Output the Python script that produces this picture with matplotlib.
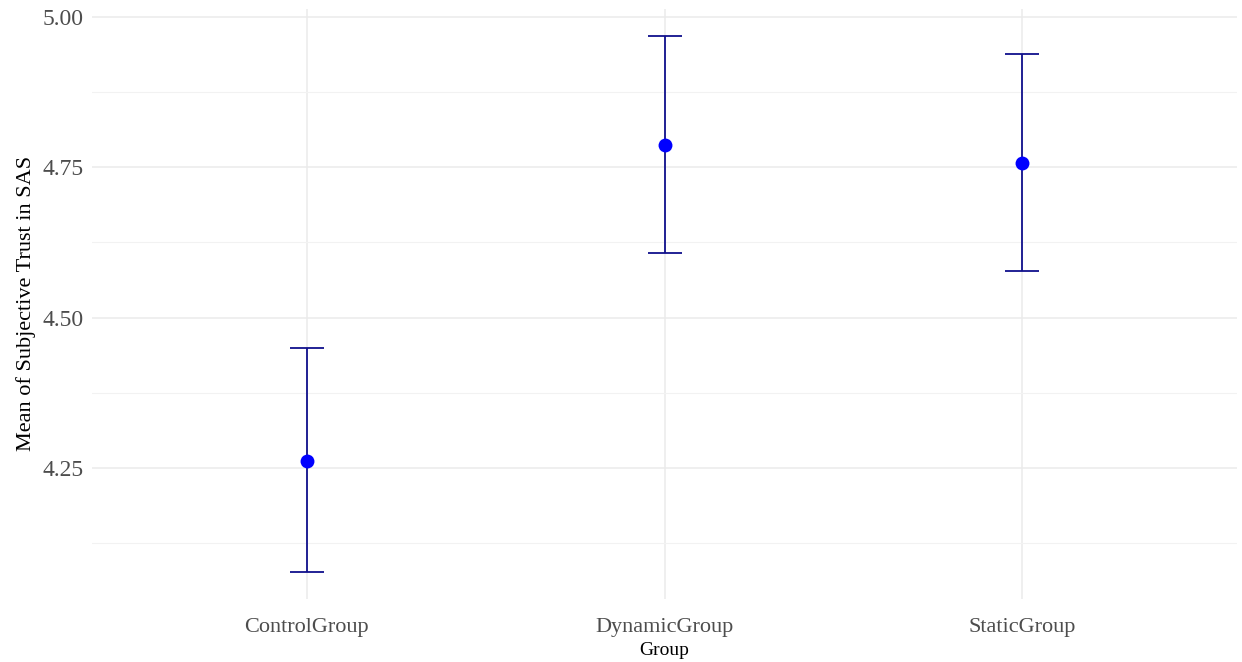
import matplotlib.pyplot as plt
from matplotlib.ticker import MultipleLocator

# group means of subjective trust with lower / upper CI bounds
groups = ["ControlGroup", "DynamicGroup", "StaticGroup"]
means = [4.262, 4.787, 4.757]
ci_low = [4.077, 4.608, 4.578]
ci_high = [4.450, 4.969, 4.938]

plt.rcParams['font.family'] = ['Liberation Serif', 'DejaVu Serif']

fig = plt.figure(figsize=(12.42, 6.62), dpi=100)
ax = fig.add_axes([0.0741, 0.0952, 0.9219, 0.8917])

x = list(range(1, len(groups) + 1))
err = [[m - lo for m, lo in zip(means, ci_low)],
       [hi - m for m, hi in zip(means, ci_high)]]

ax.errorbar(x, means, yerr=err, fmt='none', ecolor='#10108C',
            elinewidth=1.3, capsize=12.5, capthick=1.3, zorder=3)
ax.scatter(x, means, s=100, color='#0000FF', zorder=4, linewidths=0)

# ggplot-style expansion of the scales
ax.set_xlim(0.4, 3.6)
lo, hi = min(ci_low), max(ci_high)
pad = (hi - lo) * 0.05
ax.set_ylim(lo - pad, hi + pad)

ax.set_xticks(x)
ax.set_xticklabels(groups)
ax.yaxis.set_major_locator(MultipleLocator(0.25))
ax.yaxis.set_minor_locator(MultipleLocator(0.125))
ax.yaxis.set_major_formatter(lambda v, p: f"{v:.2f}")

ax.grid(which='major', color='#EBEBEB', linewidth=1.1, zorder=0)
ax.grid(which='minor', axis='y', color='#F2F2F2', linewidth=0.8, zorder=0)
ax.set_axisbelow(True)
for s in ax.spines.values():
    s.set_visible(False)
ax.tick_params(which='both', length=0, labelcolor='#4D4D4D')
ax.tick_params(axis='x', pad=14, labelsize=16)
ax.tick_params(axis='y', pad=6, labelsize=17)

ax.set_xlabel("Group", fontsize=14, labelpad=3)
ax.set_ylabel("Mean of Subjective Trust in SAS", fontsize=16, labelpad=5)

fig.savefig("out.png", dpi=100)
